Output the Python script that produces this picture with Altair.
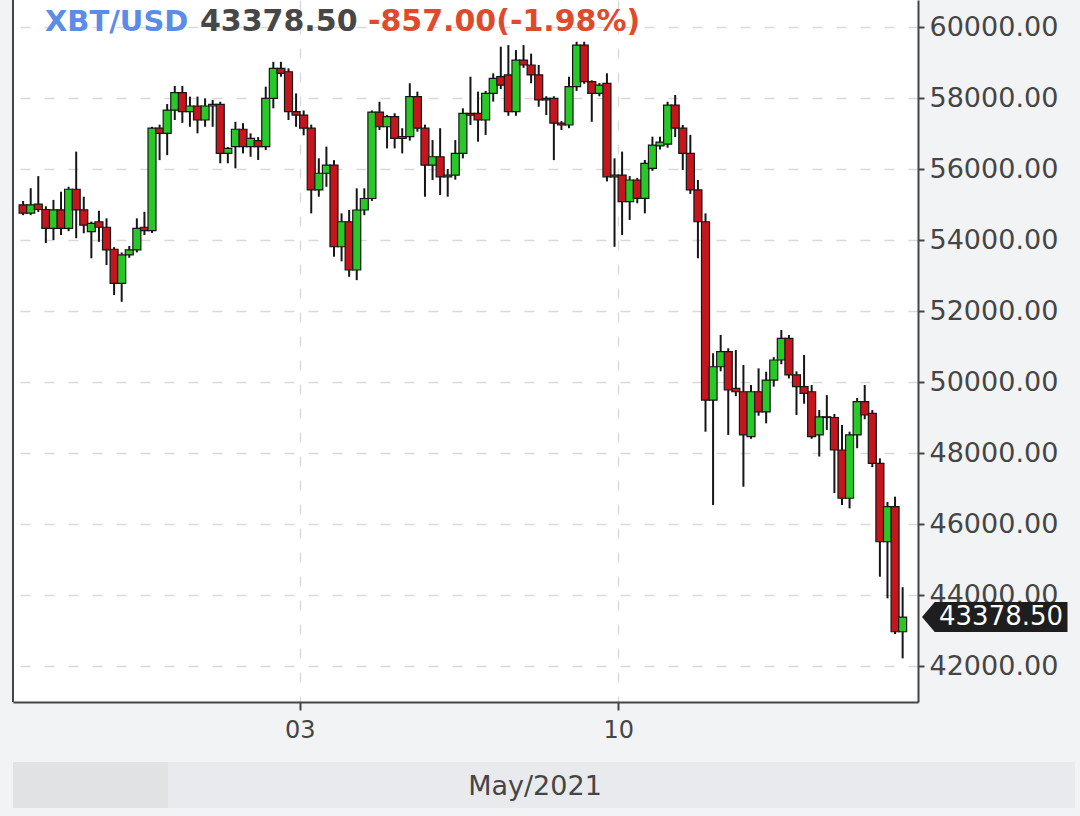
import altair as alt
import pandas as pd

# XBT/USD, 4-hour candles; the first one opens 2021-04-26 20:00 UTC
first_open = "2021-04-26 20:00"

opens = [
    54990, 54760, 55010, 54860, 54330, 54850, 54330, 55430, 54850, 54235,
    54515, 54360, 53740, 52780, 53580, 53720, 54360, 54265, 57150, 57005,
    57660, 58150, 57615, 57775, 57380, 57775, 57820, 56440, 56630, 57120,
    56630, 56800, 56630, 57990, 58835, 58740, 57615, 57520, 57150, 55410,
    55880, 56110, 53810, 54515, 53155, 54845, 55170, 57605, 57190, 57475,
    56865, 56910, 58040, 57150, 56110, 56345, 55780, 55830, 56440, 57570,
    57570, 57380, 58130, 58600, 58650, 57615, 59070, 58930, 58650, 57945,
    57990, 57290, 57240, 58320, 59490, 58460, 58130, 58415, 55780, 55830,
    55080, 55690, 55175, 56020, 56650, 56700, 57800, 57150, 56440, 55410,
    54515, 49490, 50430, 50855, 49820, 49725, 48460, 49725, 49160, 50055,
    50620, 51230, 50200, 49870, 49725, 48510, 49020, 49000, 48085, 46725,
    48510, 49445, 49115, 47710, 45500, 46490, 42965,
]
highs = [
    55100, 55460, 55800, 54950, 55130, 55360, 55500, 56490, 55220, 54520,
    54825, 54610, 53800, 53650, 53830, 54610, 54795, 57190, 57250, 57830,
    58340, 58340, 58040, 58040, 57990, 57945, 57895, 56620, 57330, 57290,
    57005, 56900, 58320, 59020, 59020, 58835, 58130, 57650, 57250, 56300,
    56630, 56250, 54750, 54845, 55455, 55455, 57650, 57895, 57520, 57570,
    57150, 58415, 58180, 57250, 56815, 57150, 56000, 56815, 57710, 58600,
    58180, 58200, 58695, 59445, 59490, 59350, 59490, 59250, 58930, 58050,
    58050, 57350, 58600, 59585, 59585, 58500, 58420, 58695, 56300, 56490,
    55800, 55750, 56255, 56910, 56910, 57895, 58085, 57240, 56960, 55690,
    54750, 50810, 51325, 50950, 50900, 50480, 49915, 50385, 50290, 50700,
    51465, 51325, 50300, 50760, 49915, 49210, 49630, 49100, 48790, 48600,
    49550, 49915, 49210, 47850, 46620, 46770, 44220,
]
lows = [
    54700, 54700, 54790, 53915, 54000, 54140, 54250, 54050, 54190, 53485,
    53950, 53295, 52450, 52260, 53500, 53650, 54140, 54200, 56250, 56390,
    57380, 57300, 57190, 57005, 57190, 57190, 56160, 56160, 56020, 56440,
    56345, 56255, 56535, 57710, 58600, 57380, 57190, 56950, 54750, 55220,
    55500, 53530, 53400, 52965, 52870, 54700, 55100, 57100, 56580, 56580,
    56440, 56800, 57050, 55220, 55690, 55270, 55220, 55700, 56300, 57240,
    56770, 56960, 57900, 58250, 57500, 57500, 58850, 58415, 57755, 57520,
    56250, 57100, 57150, 58200, 58400, 57330, 58050, 55650, 53810, 54140,
    54565, 55035, 54750, 55950, 56550, 56600, 56900, 55970, 55300, 53485,
    48600, 46535, 50300, 48510, 49600, 47050, 48400, 49050, 48835, 49870,
    50500, 50100, 49070, 49390, 48400, 47900, 48650, 46870, 46535, 46440,
    48135, 48950, 47600, 44515, 43905, 42900, 42215,
]
closes = [
    54760, 54990, 54860, 54330, 54850, 54330, 55430, 54850, 54420, 54470,
    54360, 53720, 52780, 53580, 53720, 54330, 54265, 57150, 57005, 57660,
    58150, 57615, 57775, 57380, 57775, 57820, 56440, 56580, 57120, 56630,
    56865, 56630, 57990, 58835, 58695, 57615, 57520, 57150, 55410, 55880,
    56110, 53810, 54515, 53155, 54845, 55170, 57605, 57190, 57475, 56865,
    56910, 58040, 57150, 56110, 56345, 55780, 55830, 56440, 57570, 57520,
    57380, 58130, 58555, 58365, 57615, 59070, 58930, 58650, 57945, 57990,
    57290, 57240, 58320, 59490, 58460, 58130, 58365, 55780, 55830, 55080,
    55690, 55175, 56160, 56675, 56760, 57800, 57150, 56440, 55410, 54515,
    49490, 50430, 50855, 49775, 49725, 48510, 49725, 49160, 50055, 50620,
    51230, 50200, 49870, 49680, 48460, 49020, 49000, 48085, 46725, 48510,
    49445, 49070, 47710, 45500, 46490, 42965, 43378.5,
]

price_ticks = list(range(42000, 60001, 2000))
date_ticks = ["2021-05-03", "2021-05-10"]
header_pair = ["XBT/USD"]
header_change = ["-857.00(-1.98%)"]
month_label = ["May/2021"]

GREEN = "#28c828"
RED = "#c4161c"
INK = "#161616"
AXIS = "#454545"
GRID = "#d9d9d9"
FONT = "DejaVu Sans"


def utc_ms(stamp):
    return int(pd.Timestamp(stamp, tz="UTC").timestamp() * 1000)


stamps = pd.date_range(first_open, periods=len(opens), freq="4h", tz="UTC")
candles = pd.DataFrame({
    # each candle sits at the middle of its 4-hour interval
    "t": [int(s.timestamp() * 1000) + 2 * 3600 * 1000 for s in stamps],
    "open": opens,
    "high": highs,
    "low": lows,
    "close": closes,
})
candles["rising"] = candles["close"] >= candles["open"]
last = candles.tail(1)

x_scale = alt.Scale(
    type="utc",
    domain=[utc_ms("2021-04-26 19:18"), utc_ms("2021-05-16 11:28")],
)
y_scale = alt.Scale(domain=[40986, 60761], nice=False, zero=False)

x_axis = alt.Axis(
    values=[utc_ms(d) for d in date_ticks],
    format="%d",
    labelFont=FONT, labelFontSize=24, labelColor=AXIS, labelPadding=8,
    tickSize=8, tickColor=AXIS, tickWidth=2,
    domainColor=AXIS, domainWidth=2,
    grid=True, gridColor=GRID, gridDash=[10, 14], gridWidth=1.3,
    title=None,
)
y_axis = alt.Axis(
    orient="right", values=price_ticks, format=".2f",
    labelFont=FONT, labelFontSize=27, labelColor=AXIS, labelPadding=5,
    tickSize=6, tickColor=AXIS, tickWidth=2,
    domainColor=AXIS, domainWidth=2,
    grid=True, gridColor=GRID, gridDash=[10, 14], gridWidth=1.3,
    title=None,
)

base = alt.Chart(candles).encode(x=alt.X("t:T", scale=x_scale, axis=x_axis))

wicks = base.mark_rule(color=INK, strokeWidth=2).encode(
    y=alt.Y("low:Q", scale=y_scale, axis=y_axis),
    y2="high:Q",
)

bodies = base.mark_bar(size=8, stroke=INK, strokeWidth=1.2).encode(
    y=alt.Y("open:Q", scale=y_scale, axis=y_axis),
    y2="close:Q",
    color=alt.condition(alt.datum.rising, alt.value(GREEN), alt.value(RED)),
)

# left edge of the plot frame
frame_left = alt.Chart(pd.DataFrame({"edge": [0]})).mark_rule(
    color=AXIS, strokeWidth=2
).encode(x=alt.value(0), y=alt.value(0), y2=alt.value(702))

# header: instrument, last price, change
pair_text = alt.Chart(pd.DataFrame({"s": header_pair})).mark_text(
    align="left", baseline="middle", font=FONT, fontSize=29,
    fontWeight="bold", color="#5b8ce8",
).encode(text="s:N", x=alt.value(32), y=alt.value(22))

price_text = alt.Chart(last).mark_text(
    align="left", baseline="middle", font=FONT, fontSize=30,
    fontWeight="bold", color="#474747",
).encode(text=alt.Text("close:Q", format=".2f"), x=alt.value(187), y=alt.value(22))

change_text = alt.Chart(pd.DataFrame({"s": header_change})).mark_text(
    align="left", baseline="middle", font=FONT, fontSize=30,
    fontWeight="bold", color="#e04a2c",
).encode(text="s:N", x=alt.value(355), y=alt.value(22))

# last-price tag on the price axis
tag = alt.Chart(last).mark_point(
    shape="M 0 0 L 0.85 -1 L 9.7 -1 L 9.7 1 L 0.85 1 Z",
    size=900, filled=True, color="#1e1e1e", opacity=1, strokeWidth=0,
).encode(x=alt.value(909), y=alt.Y("close:Q", scale=y_scale, axis=y_axis))

tag_text = alt.Chart(last).mark_text(
    align="left", baseline="middle", font=FONT, fontSize=26, color="white",
).encode(
    text=alt.Text("close:Q", format=".2f"),
    x=alt.value(926),
    y=alt.Y("close:Q", scale=y_scale, axis=y_axis),
)

# month strip under the time axis
strip = alt.Chart(pd.DataFrame({"s": month_label})).mark_rect(color="#e9eaed").encode(
    x=alt.value(0), x2=alt.value(1062), y=alt.value(762), y2=alt.value(808)
)
strip_left = alt.Chart(pd.DataFrame({"s": month_label})).mark_rect(color="#e1e2e4").encode(
    x=alt.value(0), x2=alt.value(155), y=alt.value(762), y2=alt.value(808)
)
strip_text = alt.Chart(pd.DataFrame({"s": month_label})).mark_text(
    align="center", baseline="middle", font=FONT, fontSize=27, color=AXIS,
).encode(text="s:N", x=alt.value(522), y=alt.value(787))

chart = alt.layer(
    wicks, bodies, frame_left, pair_text, price_text, change_text,
    tag, tag_text, strip, strip_left, strip_text,
).properties(
    width=905,
    height=702,
    autosize=alt.AutoSizeParams(type="none"),
    padding={"left": 13, "top": 0, "right": 162, "bottom": 114},
    background="#f2f3f5",
).configure_view(fill="white", strokeWidth=0)

chart.save("out.html", embed_options={"renderer": "svg", "actions": False})
